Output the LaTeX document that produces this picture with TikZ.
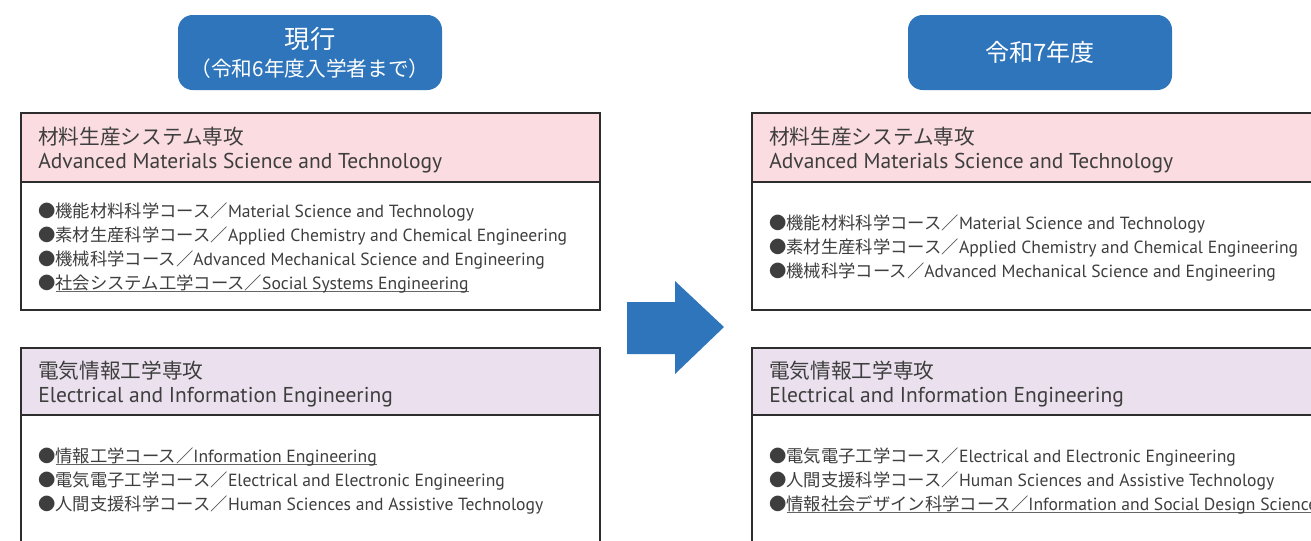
\documentclass[tikz,border=0pt]{standalone}
\usepackage{fontspec}
\setmainfont{Noto Sans CJK JP}
\newfontfamily\latf[Scale=1.015]{PT Sans}
\newfontfamily\lathf[Scale=1.04]{PT Sans}
\definecolor{btnblue}{RGB}{46,117,187}
\definecolor{pinkhead}{RGB}{250,220,225}
\definecolor{lavhead}{RGB}{234,224,238}
\definecolor{framegray}{RGB}{45,45,45}
\definecolor{txtgray}{RGB}{62,62,62}
\newcommand\ulinetext[1]{\leavevmode\setbox0\hbox{#1}\rlap{\color{txtgray!80}\rule[-2.4pt]{\wd0}{0.6pt}}\box0}
\newcommand\lt[1]{{\latf #1}}
\newcommand\lh[1]{{\lathf #1}}
\begin{document}
\begin{tikzpicture}[x=0.75pt,y=-0.75pt,
  txt/.style={anchor=base west, inner sep=0pt, text=txtgray, font=\fontsize{13}{15}\selectfont},
  head/.style={anchor=base west, inner sep=0pt, text=txtgray, font=\fontsize{15.5}{18}\selectfont},
  btn/.style={fill=btnblue, rounded corners=11pt, minimum width=198pt, minimum height=56.25pt,
    text=white, align=center, inner sep=0pt},
  frame/.style={draw=framegray, line width=1.5pt},
  bigarrow/.style={fill=btnblue}]
\path[use as bounding box, clip] (0,0) rectangle (1311,540);
% buttons
\node[btn, font=\fontsize{15.5}{21}\selectfont] (bl) at (310,52.5) {{\fontsize{19}{21}\selectfont 現行}\\{（令和6年度入学者まで）}};
\node[btn, font=\fontsize{18}{22}\selectfont] (br) at (1040,52.5) {令和7年度};
% frames left
\fill[pinkhead] (21,113) rectangle (600,182);
\draw[frame] (21,113) rectangle (600,310);
\draw[frame] (21,182) -- (600,182);
\fill[lavhead] (21,348) rectangle (600,415);
\draw[frame] (21,348) rectangle (600,600);
\draw[frame] (21,415) -- (600,415);
% frames right
\fill[pinkhead] (752,113) rectangle (1340,182);
\draw[frame] (752,113) rectangle (1340,310);
\draw[frame] (752,182) -- (1340,182);
\fill[lavhead] (752,348) rectangle (1340,415);
\draw[frame] (752,348) rectangle (1340,600);
\draw[frame] (752,415) -- (1340,415);
% arrow
\fill[bigarrow] (627,302) -- (675,302) -- (675,281) -- (724,327) -- (675,374) -- (675,354) -- (627,354) -- cycle;
% left upper text
\node[head] (h1a) at (38,144) {材料生産システム専攻};
\node[head] (h1b) at (38,168) {\lh{Advanced Materials Science and Technology}};
\node[txt] (a1) at (38,217) {●機能材料科学コース／\lt{Material Science and Technology}};
\node[txt] (a2) at (38,241) {●素材生産科学コース／\lt{Applied Chemistry and Chemical Engineering}};
\node[txt] (a3) at (38,265) {●機械科学コース／\lt{Advanced Mechanical Science and Engineering}};
\node[txt] (a4) at (38,289) {●\ulinetext{社会システム工学コース／\lt{Social Systems Engineering}}};
% left lower text
\node[head] (h2a) at (38,378) {電気情報工学専攻};
\node[head] (h2b) at (38,402) {\lh{Electrical and Information Engineering}};
\node[txt] (b1) at (38,462) {●\ulinetext{情報工学コース／\lt{Information Engineering}}};
\node[txt] (b2) at (38,486) {●電気電子工学コース／\lt{Electrical and Electronic Engineering}};
\node[txt] (b3) at (38,510) {●人間支援科学コース／\lt{Human Sciences and Assistive Technology}};
% right upper text
\node[head] (h3a) at (769,144) {材料生産システム専攻};
\node[head] (h3b) at (769,168) {\lh{Advanced Materials Science and Technology}};
\node[txt] (c1) at (769,229) {●機能材料科学コース／\lt{Material Science and Technology}};
\node[txt] (c2) at (769,253) {●素材生産科学コース／\lt{Applied Chemistry and Chemical Engineering}};
\node[txt] (c3) at (769,277) {●機械科学コース／\lt{Advanced Mechanical Science and Engineering}};
% right lower text
\node[head] (h4a) at (769,378) {電気情報工学専攻};
\node[head] (h4b) at (769,402) {\lh{Electrical and Information Engineering}};
\node[txt] (d1) at (769,462) {●電気電子工学コース／\lt{Electrical and Electronic Engineering}};
\node[txt] (d2) at (769,486) {●人間支援科学コース／\lt{Human Sciences and Assistive Technology}};
\node[txt] (d3) at (769,510) {●\ulinetext{情報社会デザイン科学コース／\lt{Information and Social Design Science}}};
\end{tikzpicture}
\end{document}
